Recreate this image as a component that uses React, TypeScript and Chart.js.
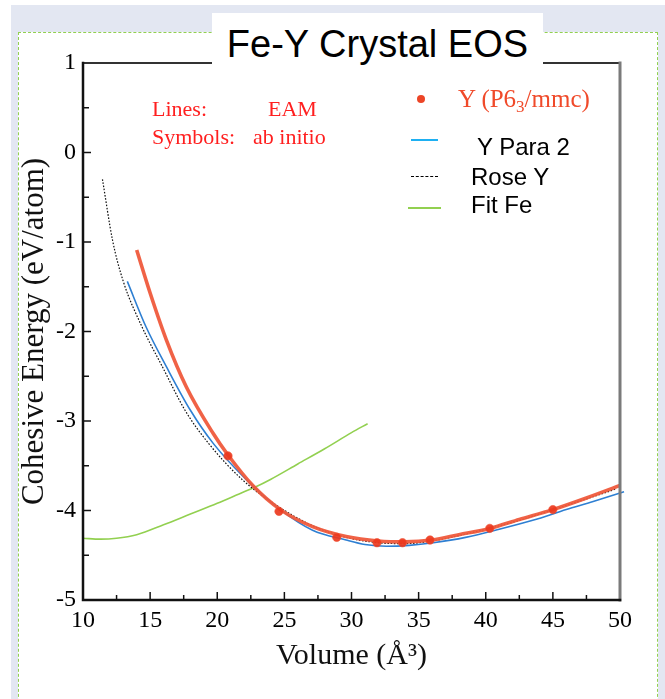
import React, { useEffect, useRef } from 'react';
import { Chart, registerables } from 'chart.js';

Chart.register(...registerables);

// ---- axis ticks ----
const xTickValues = [10, 15, 20, 25, 30, 35, 40, 45, 50];
const yTickValues = [-5, -4, -3, -2, -1, 0, 1];

// ---- ab initio symbols: Y (P6_3/mmc) ----
const abInitioVolume = [20.8, 24.6, 28.9, 31.9, 33.8, 35.85, 40.3, 45.0];
const abInitioEnergy = [-3.39, -4.01, -4.3, -4.36, -4.36, -4.33, -4.2, -3.99];

// ---- EAM line for Y (P6_3/mmc) (thick red) ----
const eamYVolume = [14.0, 15.0, 16.2, 17.7, 19.7, 20.8, 22.7, 24.7, 27.1, 29.6, 32.0, 34.0, 36.0, 38.0, 40.3, 42.5, 45.0, 47.5, 50.0];
const eamYEnergy = [-1.09, -1.57, -2.09, -2.62, -3.14, -3.38, -3.73, -3.99, -4.18, -4.29, -4.34, -4.35, -4.33, -4.27, -4.2, -4.1, -3.99, -3.86, -3.72];

// ---- Y Para 2 (blue) ----
const yPara2Volume = [13.3, 14.7, 16.2, 18.0, 19.7, 22.2, 24.7, 27.1, 29.6, 31.0, 32.6, 34.3, 36.1, 38.5, 41.0, 43.5, 46.0, 48.0, 50.3];
const yPara2Energy = [-1.44, -1.95, -2.39, -2.88, -3.25, -3.66, -3.99, -4.22, -4.33, -4.38, -4.4, -4.39, -4.36, -4.3, -4.21, -4.11, -3.99, -3.9, -3.79];

// ---- Rose Y (black dotted) ----
const roseYVolume = [11.45, 12.2, 13.0, 14.4, 15.9, 17.6, 19.35, 21.9, 24.6, 27.1, 29.6, 32.0, 34.0, 36.0, 38.0, 40.0, 42.5, 45.0, 47.5, 49.7];
const roseYEnergy = [-0.3, -0.98, -1.44, -1.95, -2.39, -2.88, -3.25, -3.66, -3.96, -4.17, -4.3, -4.36, -4.37, -4.34, -4.28, -4.21, -4.11, -3.99, -3.87, -3.76];

// ---- Fit Fe (green) ----
const fitFeVolume = [10.0, 11.3, 12.5, 14.0, 16.0, 18.0, 20.0, 22.0, 22.8, 24.0, 26.0, 28.0, 30.0, 31.2];
const fitFeEnergy = [-4.31, -4.32, -4.31, -4.27, -4.16, -4.04, -3.92, -3.79, -3.74, -3.65, -3.48, -3.31, -3.13, -3.03];

const zip = (xs: number[], ys: number[]) => xs.map((x, i) => ({ x, y: ys[i] }));

const SERIF = "'Liberation Serif', 'Times New Roman', serif";
const SANS = "'Liberation Sans', Arial, sans-serif";

const framePlugin = {
  id: 'frameTicks',
  afterDatasetsDraw(chart: any) {
    const { ctx, chartArea, scales } = chart;
    const { left, right, top, bottom } = chartArea;
    const xs = scales.x;
    const ys = scales.y;
    ctx.save();
    ctx.strokeStyle = '#111';
    ctx.lineWidth = 1.5;
    for (let i = 0; i < yTickValues.length; i++) {
      const v = yTickValues[i];
      const py = ys.getPixelForValue(v);
      ctx.beginPath();
      ctx.moveTo(left, py);
      ctx.lineTo(left + 8, py);
      ctx.stroke();
      if (i < yTickValues.length - 1) {
        const pm = ys.getPixelForValue((v + yTickValues[i + 1]) / 2);
        ctx.beginPath();
        ctx.moveTo(left, pm);
        ctx.lineTo(left + 6, pm);
        ctx.stroke();
      }
    }
    for (let i = 0; i < xTickValues.length; i++) {
      const v = xTickValues[i];
      const px = xs.getPixelForValue(v);
      ctx.beginPath();
      ctx.moveTo(px, bottom);
      ctx.lineTo(px, bottom - 8);
      ctx.stroke();
      if (i < xTickValues.length - 1) {
        const pm = xs.getPixelForValue((v + xTickValues[i + 1]) / 2);
        ctx.beginPath();
        ctx.moveTo(pm, bottom);
        ctx.lineTo(pm, bottom - 5);
        ctx.stroke();
      }
    }
    ctx.lineCap = 'square';
    ctx.strokeStyle = '#333';
    ctx.lineWidth = 2;
    ctx.beginPath();
    ctx.moveTo(left, top);
    ctx.lineTo(right, top);
    ctx.stroke();
    ctx.strokeStyle = '#7a7a7a';
    ctx.lineWidth = 3;
    ctx.beginPath();
    ctx.moveTo(right, top);
    ctx.lineTo(right, bottom);
    ctx.stroke();
    ctx.strokeStyle = '#111';
    ctx.lineWidth = 2.5;
    ctx.beginPath();
    ctx.moveTo(left, top);
    ctx.lineTo(left, bottom);
    ctx.lineTo(right, bottom);
    ctx.stroke();
    ctx.restore();
  },
};

export default function App() {
  const canvasRef = useRef<HTMLCanvasElement | null>(null);

  useEffect(() => {
    const canvas = canvasRef.current;
    if (!canvas) return;
    const chart = new Chart(canvas, {
      type: 'scatter',
      data: {
        datasets: [
          {
            label: 'Y (P6\u2083/mmc) ab initio',
            data: zip(abInitioVolume, abInitioEnergy),
            showLine: false,
            pointRadius: 4.2,
            pointStyle: 'circle',
            backgroundColor: 'rgba(236,56,30,0.92)',
            borderColor: 'rgba(240,80,50,0.6)',
            borderWidth: 1,
          },
          {
            label: 'EAM Y',
            data: zip(eamYVolume, eamYEnergy),
            showLine: true,
            pointRadius: 0,
            borderColor: 'rgba(239,90,60,0.95)',
            borderWidth: 3.6,
            cubicInterpolationMode: 'monotone',
          },
          {
            label: 'Y Para 2',
            data: zip(yPara2Volume, yPara2Energy),
            showLine: true,
            pointRadius: 0,
            borderColor: '#2e7fd2',
            borderWidth: 1.6,
            cubicInterpolationMode: 'monotone',
            clip: { left: 0, top: 0, right: 6, bottom: 0 },
          },
          {
            label: 'Rose Y',
            data: zip(roseYVolume, roseYEnergy),
            showLine: true,
            pointRadius: 0,
            borderColor: '#111',
            borderWidth: 1.2,
            borderDash: [1.6, 1.6],
            cubicInterpolationMode: 'monotone',
          },
          {
            label: 'Fit Fe',
            data: zip(fitFeVolume, fitFeEnergy),
            showLine: true,
            pointRadius: 0,
            borderColor: '#92d050',
            borderWidth: 1.6,
            cubicInterpolationMode: 'monotone',
          },
        ],
      } as any,
      options: {
        responsive: false,
        maintainAspectRatio: false,
        animation: false,
        layout: { padding: { left: 0, top: 63, right: 45, bottom: 0 } },
        plugins: {
          legend: { display: false },
          tooltip: { enabled: false },
          title: { display: false },
        },
        scales: {
          x: {
            type: 'linear',
            min: 10,
            max: 50,
            afterFit: (s: any) => {
              s.height = 99;
            },
            afterBuildTicks: (s: any) => {
              s.ticks = xTickValues.map((v) => ({ value: v }));
            },
            ticks: {
              padding: 6,
              color: '#000',
              maxRotation: 0,
              autoSkip: false,
              font: { family: SERIF, size: 24 },
            },
            grid: { display: false, drawTicks: false },
            border: { display: false },
            title: {
              display: true,
              text: 'Volume (\u00c5\u00b3)',
              color: '#111',
              font: { family: SERIF, size: 30 },
              padding: { top: 0, bottom: 25 },
            },
          },
          y: {
            type: 'linear',
            min: -5,
            max: 1,
            afterFit: (s: any) => {
              s.width = 83;
            },
            afterBuildTicks: (s: any) => {
              s.ticks = yTickValues.map((v) => ({ value: v }));
            },
            ticks: {
              padding: 7,
              color: '#000',
              font: { family: SERIF, size: 24 },
            },
            grid: { display: false, drawTicks: false },
            border: { display: false },
            title: {
              display: true,
              text: 'Cohesive Energy (eV/atom)',
              color: '#111',
              font: { family: SERIF, size: 31 },
              padding: { top: 16, bottom: 0 },
            },
          },
        },
      } as any,
      plugins: [framePlugin],
    });
    return () => chart.destroy();
  }, []);

  const abs = (s: React.CSSProperties): React.CSSProperties => ({ position: 'absolute', ...s });
  const red: React.CSSProperties = { fontFamily: SERIF, fontSize: 22, lineHeight: '22px', color: '#ff1f1f', whiteSpace: 'nowrap' };
  const blk: React.CSSProperties = { fontFamily: SANS, fontSize: 24, lineHeight: '24px', color: '#000', whiteSpace: 'nowrap' };

  return (
    <div style={abs({ left: 0, top: 0, width: 665, height: 699, overflow: 'hidden', background: '#fff' })}>
      <div style={abs({ left: 11, top: 5, width: 654, height: 694, background: '#e3e7f2' })} />
      <div
        style={abs({
          left: 18,
          top: 32,
          width: 640,
          height: 700,
          boxSizing: 'border-box',
          background: '#fff',
          border: '1px dashed #92d050',
        })}
      />
      <canvas
        ref={canvasRef}
        width={665}
        height={699}
        style={abs({ left: 0, top: 0, width: 665, height: 699, display: 'block' })}
      />
      {/* title box */}
      <div style={abs({ left: 212, top: 13, width: 331, height: 56, background: '#fff' })} />
      <div
        style={abs({
          left: 212,
          top: 25,
          width: 331,
          textAlign: 'center',
          fontFamily: SANS,
          fontSize: 38,
          lineHeight: '38px',
          color: '#000',
          whiteSpace: 'nowrap',
        })}
      >
        Fe-Y Crystal EOS
      </div>
      {/* annotation */}
      <div style={abs({ left: 152, top: 98, ...red })}>Lines:</div>
      <div style={abs({ left: 268, top: 98, ...red })}>EAM</div>
      <div style={abs({ left: 152, top: 126, ...red })}>Symbols:</div>
      <div style={abs({ left: 253, top: 126, ...red })}>ab initio</div>
      {/* legend */}
      <div style={abs({ left: 417, top: 95, width: 8, height: 8, borderRadius: 4, background: '#ec4526' })} />
      <div style={abs({ left: 458, top: 86, fontFamily: SERIF, fontSize: 25, lineHeight: '25px', color: '#f04a2a', whiteSpace: 'nowrap' })}>
        Y (P6<span style={{ fontSize: 17, position: 'relative', top: 5 }}>3</span>/mmc)
      </div>
      <div style={abs({ left: 411, top: 139, width: 27, height: 2, background: '#1eb0f2' })} />
      <div style={abs({ left: 477, top: 135, ...blk })}>Y Para 2</div>
      <div style={abs({ left: 411, top: 176, width: 27, height: 0, borderTop: '1px dashed #000' })} />
      <div style={abs({ left: 471, top: 165, ...blk })}>Rose Y</div>
      <div style={abs({ left: 408, top: 207, width: 33, height: 2, background: '#92d050' })} />
      <div style={abs({ left: 471, top: 193, ...blk })}>Fit Fe</div>
    </div>
  );
}
